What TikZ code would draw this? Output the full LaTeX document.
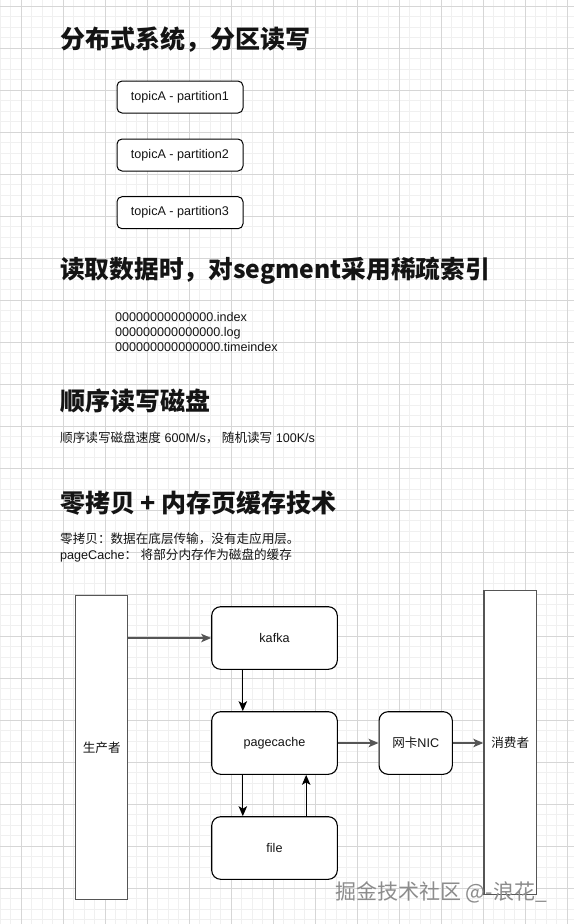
\documentclass[tikz,border=0pt]{standalone}
\usepackage{fontspec}
\setmainfont{Liberation Sans}
\newfontfamily\cjk{Noto Sans CJK SC}
\usetikzlibrary{arrows.meta,calc}
\definecolor{gmajor}{RGB}{214,214,214}
\definecolor{gminor}{RGB}{240,240,240}
\definecolor{edgegray}{RGB}{85,85,85}
\definecolor{wm}{RGB}{140,140,140}
\definecolor{ink}{RGB}{20,20,20}
\begin{document}
\begin{tikzpicture}[x=1pt,y=-1pt,
  minorline/.style={gminor,line width=0.6pt},
  majorline/.style={gmajor,line width=0.8pt},
  title/.style={anchor=west,inner sep=0pt,text=ink,font=\cjk\bfseries\fontsize{25}{30}\selectfont},
  body/.style={anchor=west,inner sep=0pt,text=ink,align=left,font=\fontsize{12.6}{15}\selectfont},
  topicbox/.style={draw=black,line width=1pt,rounded corners=5pt,fill=white,minimum width=126pt,minimum height=32pt,inner sep=0pt,text=ink,font=\fontsize{12.6}{15}\selectfont},
  bigbox/.style={draw=black,line width=1.1pt,rounded corners=9pt,fill=white,minimum width=125.6pt,minimum height=62.6pt,inner sep=0pt,text=ink,font=\fontsize{12.6}{15}\selectfont},
  tallbox/.style={draw=edgegray,line width=1.3pt,fill=white,minimum width=52pt,minimum height=304pt,inner sep=0pt,text=ink,font=\cjk\fontsize{12.6}{15}\selectfont},
  arr/.style={-{Stealth[length=10pt,width=8.5pt,inset=2.5pt]},line width=1.2pt,black},
]
\useasboundingbox (0,0) rectangle (574,924);
\fill[white] (0,0) rectangle (574,924);
% grid
\foreach \i in {0,...,54} \draw[minorline] (\i*10.5,0) -- (\i*10.5,924);
\foreach \i in {0,...,87} \draw[minorline] (0,6+\i*10.5) -- (574,6+\i*10.5);
\foreach \i in {0,...,13} \draw[majorline] (21+\i*42,0) -- (21+\i*42,924);
\foreach \i in {0,...,21} \draw[majorline] (0,6+\i*42) -- (574,6+\i*42);

% section 1
\node[title] (t1) at (60,40) {分布式系统，分区读写};
\node[topicbox] (p1) at (180,97) {topicA - partition1};
\node[topicbox] (p2) at (180,155) {topicA - partition2};
\node[topicbox] (p3) at (180,212.7) {topicA - partition3};

% section 2
\node[title,font=\cjk\bfseries\fontsize{24.7}{30}\selectfont] (t2) at (60,271) {读取数据时，对segment采用稀疏索引};
\node[body] (zeros) at (115,332) {00000000000000.index\\000000000000000.log\\000000000000000.timeindex};

% section 3
\node[title] (t3) at (60,401) {顺序读写磁盘};
\node[body] (speed) at (60,438) {{\cjk 顺序读写磁盘速度} 600M/s{\cjk ，} {\cjk 随机读写} 100K/s};

% section 4
\node[title] (t4) at (60,503) {零拷贝 {+} 内存页缓存技术};
\node[body,font=\fontsize{12.6}{16}\selectfont] (zc) at (60,547) {{\cjk 零拷贝：数据在底层传输，没有走应用层。}\\pageCache{\cjk ：} {\cjk 将部分内存作为磁盘的缓存}};

% diagram
\node[tallbox] (prod) at (101.7,747.8) {生产者};
\node[tallbox,minimum width=52.5pt] (cons) at (510.2,742.7) {消费者};
\node[bigbox] (kafka) at (274.5,638) {kafka};
\node[bigbox] (pc) at (274.5,743) {pagecache};
\node[bigbox] (file) at (274.5,848) {file};
\node[bigbox,minimum width=73.3pt] (nic) at (415.7,743) {{\cjk 网卡}NIC};

\draw[arr,draw=edgegray] (kafka.west -| prod.east) -- (kafka.west);
\draw[arr] ($(kafka.south west)!0.25!(kafka.south east)$) -- ($(pc.north west)!0.25!(pc.north east)$);
\draw[arr] ($(pc.south west)!0.25!(pc.south east)$) -- ($(file.north west)!0.25!(file.north east)$);
\draw[arr] ($(file.north west)!0.75!(file.north east)$) -- ($(pc.south west)!0.75!(pc.south east)$);
\draw[arr,draw=edgegray] (pc.east) -- (nic.west);
\draw[arr,draw=edgegray] (nic.east) -- (nic.east -| cons.west);

% watermark
\node[inner sep=0pt,anchor=west,text=wm,font=\cjk\fontsize{21}{25}\selectfont] (wmark) at (335,892) {掘金技术社区 @-浪花\_};
\end{tikzpicture}
\end{document}
